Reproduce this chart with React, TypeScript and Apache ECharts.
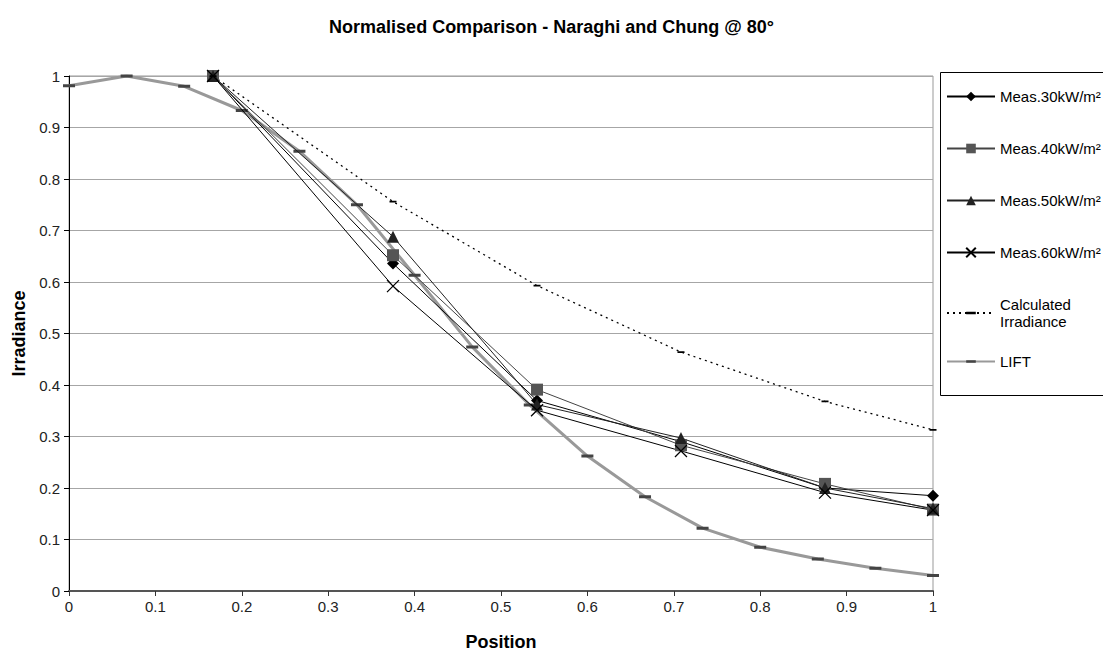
import React, { useEffect, useRef } from "react";
import * as echarts from "echarts";

const posMeas = [0.1667, 0.375, 0.5417, 0.7083, 0.875, 1.0];
const meas30 = [1.0, 0.636, 0.37, 0.29, 0.2, 0.185];
const meas40 = [1.0, 0.652, 0.391, 0.283, 0.208, 0.158];
const meas50 = [1.0, 0.688, 0.362, 0.297, 0.2, 0.16];
const meas60 = [1.0, 0.592, 0.351, 0.272, 0.191, 0.157];
const calcIrr = [1.0, 0.756, 0.593, 0.464, 0.368, 0.313];
const posLift = [0, 0.0667, 0.1333, 0.2, 0.2667, 0.3333, 0.4, 0.4667, 0.5333, 0.6, 0.6667, 0.7333, 0.8, 0.8667, 0.9333, 1.0];
const lift = [0.981, 1.0, 0.98, 0.933, 0.854, 0.75, 0.613, 0.474, 0.361, 0.262, 0.183, 0.122, 0.085, 0.062, 0.044, 0.03];

const names = ["Meas.30kW/m²", "Meas.40kW/m²", "Meas.50kW/m²", "Meas.60kW/m²", "Calculated\nIrradiance", "LIFT"];

const pair = (xs: number[], ys: number[]) => xs.map((x, i) => [x, ys[i]]);

const FONT = "Liberation Sans, Arial, sans-serif";
// square bounding box (tiny corner specks) with a horizontal dash in the middle
const DASH = "path://M0,0H0.01V0.01H0Z M0,4.5H12V7.5H0Z M11.99,11.99H12V12H11.99Z";

export default function App() {
  const ref = useRef<HTMLDivElement>(null);
  useEffect(() => {
    if (!ref.current) return;
    const chart = echarts.init(ref.current, undefined, { renderer: "svg" });
    const legendText = { fontFamily: FONT, fontSize: 15, color: "#000", lineHeight: 17 };
    chart.setOption({
      animation: false,
      backgroundColor: "#ffffff",
      textStyle: { fontFamily: FONT },
      title: {
        text: "Normalised Comparison - Naraghi and Chung @ 80°",
        left: "center",
        top: 13,
        textStyle: { fontFamily: FONT, fontSize: 18, fontWeight: "bold", color: "#000" },
      },
      graphic: [
        {
          type: "rect",
          shape: { x: 940.5, y: 72.5, width: 200, height: 323 },
          style: { fill: "none", stroke: "#000", lineWidth: 1 },
          z: 10,
        },
      ],
      legend: [
        {
          orient: "vertical",
          left: 946,
          top: 88,
          padding: 0,
          itemGap: 35,
          itemWidth: 48,
          itemHeight: 12,
          align: "left",
          textStyle: legendText,
          data: names.slice(0, 5),
        },
        {
          orient: "vertical",
          left: 946,
          top: 353,
          padding: 0,
          itemWidth: 48,
          itemHeight: 12,
          align: "left",
          textStyle: legendText,
          data: names.slice(5),
        },
      ],
      grid: {
        left: 69,
        right: 170,
        top: 76,
        bottom: 61,
        show: true,
        borderColor: "#999",
        borderWidth: 1,
      },
      xAxis: {
        type: "value",
        min: 0,
        max: 1,
        interval: 0.1,
        name: "Position",
        nameLocation: "middle",
        nameGap: 42,
        nameTextStyle: { fontFamily: FONT, fontSize: 18, fontWeight: "bold", color: "#000" },
        axisLine: { lineStyle: { color: "#555", width: 2 } },
        axisTick: { show: true, length: 5, lineStyle: { color: "#333" } },
        axisLabel: { fontFamily: FONT, fontSize: 15, color: "#222", margin: 8 },
        splitLine: { show: false },
      },
      yAxis: {
        type: "value",
        min: 0,
        max: 1,
        interval: 0.1,
        name: "Irradiance",
        nameLocation: "middle",
        nameGap: 36,
        nameTextStyle: { fontFamily: FONT, fontSize: 18, fontWeight: "bold", color: "#000" },
        axisLine: { show: true, lineStyle: { color: "#000", width: 1 } },
        axisTick: { show: true, length: 5, lineStyle: { color: "#000" } },
        axisLabel: { fontFamily: FONT, fontSize: 15, color: "#222", margin: 9 },
        splitLine: { show: true, lineStyle: { color: "#a6a6a6", width: 1 } },
      },
      series: [
        {
          name: names[0],
          type: "line",
          data: pair(posMeas, meas30),
          symbol: "diamond",
          symbolSize: 12,
          itemStyle: { color: "#000" },
          lineStyle: { color: "#000", width: 1 },
        },
        {
          name: names[1],
          type: "line",
          data: pair(posMeas, meas40),
          symbol: "rect",
          symbolSize: 12,
          itemStyle: { color: "#555" },
          lineStyle: { color: "#444", width: 1 },
        },
        {
          name: names[2],
          type: "line",
          data: pair(posMeas, meas50),
          symbol: "triangle",
          symbolSize: 12,
          itemStyle: { color: "#222" },
          lineStyle: { color: "#222", width: 1 },
        },
        {
          name: names[3],
          type: "line",
          data: pair(posMeas, meas60),
          symbol: "path://M0,0L10,10M10,0L0,10",
          symbolSize: 12,
          itemStyle: { color: "none", borderColor: "#000", borderWidth: 1.3 },
          lineStyle: { color: "#000", width: 1 },
        },
        {
          name: names[4],
          type: "line",
          data: pair(posMeas, calcIrr),
          symbol: DASH,
          symbolSize: 7,
          itemStyle: { color: "#000" },
          lineStyle: { color: "#000", width: 1.3, type: [2, 4] },
        },
        {
          name: names[5],
          type: "line",
          data: pair(posLift, lift),
          symbol: DASH,
          symbolSize: 12,
          itemStyle: { color: "#444" },
          lineStyle: { color: "#999", width: 3 },
          z: 1,
        },
      ],
    });
    return () => chart.dispose();
  }, []);
  return (
    <div
      ref={ref}
      style={{ position: "fixed", left: 0, top: 0, width: 1103, height: 656, background: "#fff" }}
    />
  );
}
